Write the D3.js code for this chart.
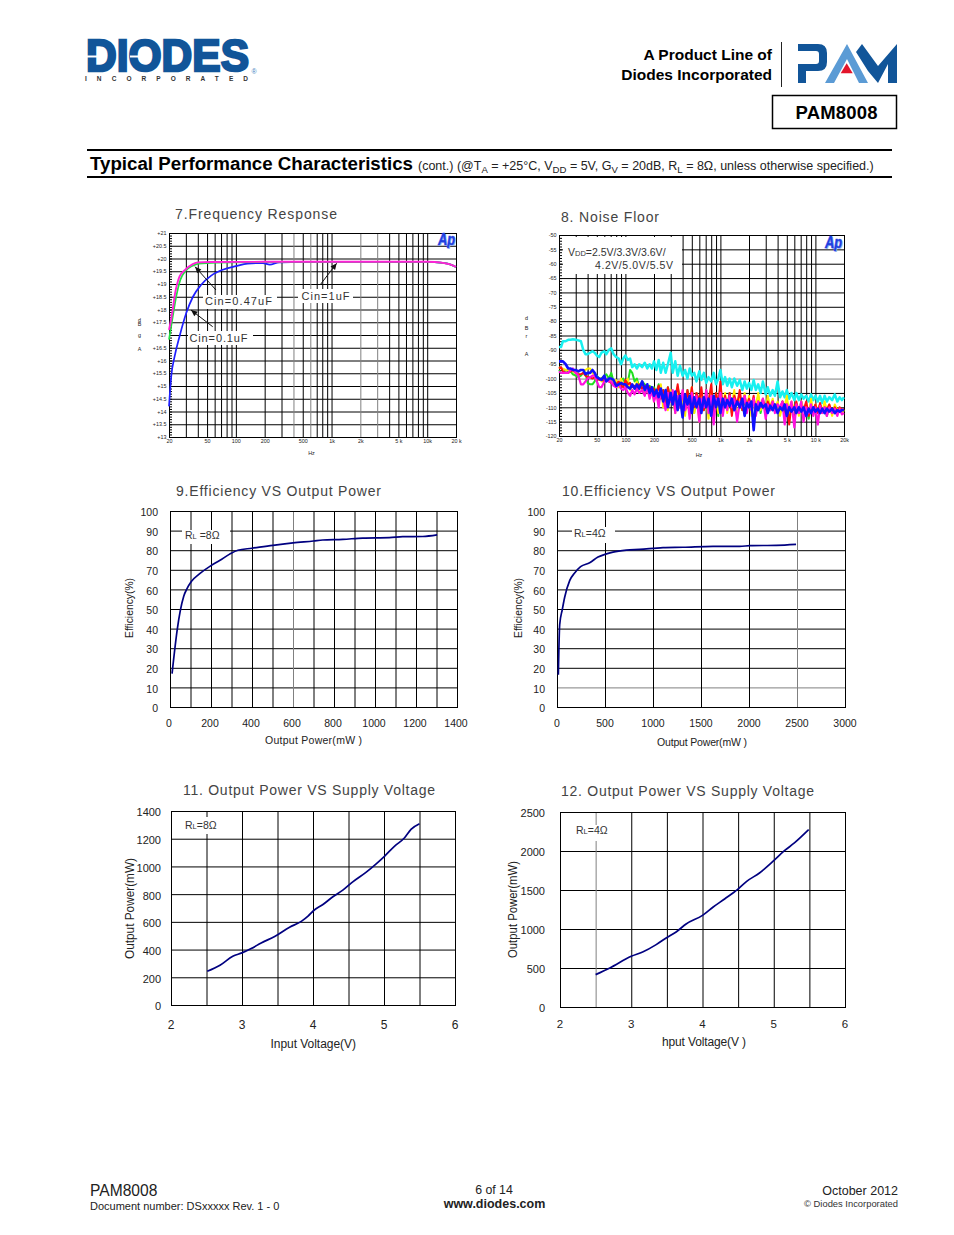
<!DOCTYPE html>
<html><head><meta charset="utf-8">
<script src="https://cdn.jsdelivr.net/npm/d3@7"></script>
<style>
html,body{margin:0;padding:0;background:#fff}
svg{display:block}
text{font-family:"Liberation Sans",Arial,sans-serif}
</style></head><body>
<svg id="page" width="954" height="1235" viewBox="0 0 954 1235"></svg>
<script>
// ---------- chart 7 data
const freqTicks=[20,50,100,200,500,1000,2000,5000,10000,20000];
const freqTickLabels=["20","50","100","200","500","1k","2k","5 k","10k","20 k"];
const freqGrid=[30,40,50,60,70,80,90,100,200,300,500,700,800,900,1000,4000,5000,6000,7000,8000,9000,10000];
const freqGridGrey=[400,600,2000,3000];
const fr7Ticks=[13,13.5,14,14.5,15,15.5,16,16.5,17,17.5,18,18.5,19,19.5,20,20.5,21];
const fr7Labels=["+13","+13.5","+14","+14.5","+15","+15.5","+16","+16.5","+17","+17.5","+18","+18.5","+19","+19.5","+20","+20.5","+21"];
const magentaF=[20,21.6,23.2,25.8,29,35.4,40,53,200,1000,10000,12000,15100,17000,20000];
const magentaV=[17.2,17.86,18.65,19.3,19.53,19.78,19.85,19.86,19.87,19.87,19.87,19.86,19.82,19.78,19.67];
const greenF=[20,21.9,23.8,26.3,29.6,35.4,41,62,200,1000,10000,12000,15100,17000,20000];
const greenV=[16.82,17.73,18.51,19.17,19.5,19.72,19.8,19.84,19.86,19.87,19.87,19.86,19.82,19.78,19.67];
const blueF=[20,21.1,22.9,25.8,30.3,35.6,43.4,55.2,73,100,133,192,226,284,422,1000,10000,12000,15100,17000,20000];
const blueV=[14.2,15.38,16.16,16.95,17.86,18.5,18.97,19.33,19.56,19.7,19.8,19.82,19.76,19.85,19.86,19.87,19.87,19.86,19.82,19.78,19.67];

// ---------- chart 8 data
const nfTicks=[-50,-55,-60,-65,-70,-75,-80,-85,-90,-95,-100,-105,-110,-115,-120];
const nfTickLabels=["20","50","100","200","500","1k","2k","5 k","10 k","20k"];
const nfFreq=[20,21,22,23.5,25,26.5,28,30,32,34,
36,38,40,42.5,45,47.5,50,53,56,60,
63,67,71,75,80,85,90,95,100,106,
112,118,125,132,140,150,160,170,180,190,
200,212,224,236,250,265,280,300,315,335,
355,375,400,425,450,475,500,530,560,600,
630,670,710,750,800,850,900,950,1000,1060,
1120,1180,1250,1320,1400,1500,1600,1700,1800,1900,
2000,2120,2240,2360,2500,2650,2800,3000,3150,3350,
3550,3750,4000,4250,4500,4750,5000,5300,5600,6000,
6300,6700,7100,7500,8000,8500,9000,9500,10000,10600,
11200,11800,12500,13200,14000,15000,16000,17000,18000,19000,
20000];
const nfCyan=[-89,-89,-87,-87,-86.5,-86.5,-86.3,-86.5,-86.7,-87,
-90,-91.5,-91.5,-91,-90.5,-91,-92,-92.5,-91,-90.5,
-91.5,-90,-89.5,-91.5,-92.5,-93,-95,-93,-92,-93.5,
-93,-96,-95,-96.5,-95,-96,-94.5,-96.5,-95,-96.5,
-94,-97,-93.5,-98,-94.5,-98,-95,-91,-98,-94,
-99,-95.5,-99,-97,-100,-96.5,-99,-98,-101,-97.5,
-100.5,-98,-101.5,-99.5,-101,-98,-102,-100,-97,-102,
-99.5,-102.5,-100,-103,-100,-102.5,-100.5,-104,-101,-103.5,
-101.5,-104,-100.5,-104,-102,-105,-101,-105.5,-103,-106,
-104,-106,-101,-106.5,-104.5,-106.5,-104,-107,-105,-107.5,
-105,-107.5,-105.5,-107,-106,-108,-105.5,-107.5,-106,-108,
-106,-108.5,-106,-108,-106.5,-107.5,-105.5,-108,-106.5,-107.5,
-106.5];
const nfGreen=[-97,-98,-98,-97,-97.5,-97.5,-98.5,-99,-99.5,-99,
-98,-98,-101.5,-102,-102,-101,-99,-100,-100,-99,
-98.5,-100,-98,-101,-101,-103,-100.5,-100,-102,-101.5,
-97,-98,-101,-100,-103,-101,-102,-103,-102.5,-104,
-103,-105,-102,-106,-104,-108,-103,-107,-105,-109,
-103,-107,-105,-110,-104,-108,-106,-112,-105,-108,
-106,-111,-104,-109,-106,-110,-105,-113,-106,-108,
-107,-110,-105,-112,-107,-109,-106,-111,-108,-110,
-107,-111,-108,-110,-106,-112,-108,-110,-107,-111,
-108,-110,-109,-112,-108,-111,-110,-113,-109,-111,
-109,-112,-108,-111,-110,-114,-109,-111,-110,-112,
-109,-111,-110,-113,-110,-111,-110,-112,-110.5,-111.5,
-111];
const nfYellow=[-96,-96.5,-96.5,-97,-97,-97,-97.5,-98,-97.5,-97,
-97,-97,-96.5,-96.5,-98,-99,-100,-100,-101,-101,
-100,-101,-100,-102,-100.5,-103,-100,-103,-101,-100,
-104,-102,-103.5,-101,-104,-102,-105,-104,-106,-103,
-108,-104,-109,-102,-110,-105,-111,-104,-107,-112,
-104,-109,-106,-113,-105,-108,-103,-112,-106,-115,
-105,-109,-107,-114,-104,-108,-106,-112,-103,-110,
-105,-112,-106,-109,-104,-114,-107,-110,-105,-111,
-106,-113,-107,-110,-105,-111,-108,-112,-106,-110,
-107,-111,-108,-113,-109,-110,-106,-112,-108,-111,
-109,-113,-108,-111,-109,-112,-107,-112,-109,-111,
-109,-112,-108,-111,-109,-113,-109,-111,-110,-112,
-111];
const nfRed=[-96.5,-96,-97.5,-98,-98,-97.5,-97,-98,-98.5,-98.5,
-98,-99,-99.5,-99.5,-100,-99.5,-100,-100.5,-100,-101,
-100.5,-101,-101.5,-102,-102,-101,-102.5,-103,-100.5,-102,
-101.5,-103,-102.5,-104,-102,-103.5,-102.5,-104,-103,-105,
-103.5,-105,-102.5,-107,-104,-109,-103,-108,-105,-107,
-102,-108,-105,-111,-104,-109,-103,-110,-105,-108,
-103,-111,-106,-108,-102,-112,-105,-109,-101,-111,
-106,-110,-105,-113,-106,-109,-104,-111,-106,-110,
-107,-110,-106,-112,-108,-110,-107,-111,-108,-110,
-108,-111,-109,-110,-108,-113,-109,-116,-109,-111,
-108,-112,-109.5,-111,-108,-113,-110,-111,-109,-112,
-108.5,-112,-110,-111,-109,-112,-110,-111.5,-110,-111,
-110.5];
const nfMagenta=[-97.5,-98,-98,-98,-98,-97,-96.5,-98,-99,-102,
-102,-101,-100,-99.5,-99,-99,-101,-103,-103,-101,
-100.5,-101,-101,-102.5,-103,-102,-103.5,-104,-103,-105,
-106,-104,-105.5,-103.5,-105,-104,-106,-103,-107,-104,
-108,-105,-110,-104,-107,-111,-105,-108,-104,-112,
-106,-110,-104,-111,-107,-114,-105,-109,-106,-115,
-107,-110,-104,-112,-106,-116,-107,-109,-105,-113,
-107,-111,-106,-110,-107,-115,-108,-110,-106,-112,
-108,-111,-107,-113,-108,-110,-107,-114,-109,-111,
-108,-112,-109,-110,-108,-116,-109,-111,-108,-117,
-109,-112,-108,-115,-110,-112,-109,-113,-110,-116,
-109.5,-112,-110,-113,-110,-112,-110.5,-113,-110.5,-112.5,
-112];
const nfBlue=[-94,-94,-94,-95,-96.5,-96.5,-97,-97,-97.5,-97,
-97,-98.5,-98,-98,-97,-98,-99.5,-100,-100.5,-99,
-101,-100,-100,-100.5,-102.5,-102,-101.5,-102,-102,-103,
-103.5,-102,-103.5,-102,-103.5,-101,-104,-102,-105,-103,
-106,-104,-106.5,-103.5,-108,-104,-110,-105,-109,-104.5,
-111,-106,-113.5,-105.5,-109,-106,-112,-106.5,-110,-107,
-112,-106.5,-110,-107,-113,-106,-110,-107,-112,-107,
-110,-107.5,-109.5,-107,-111,-108,-110,-107,-113,-108.5,
-110,-108,-118,-109,-111,-108.5,-110,-109,-112,-109.5,
-111,-109,-112,-110,-111,-109,-113,-110,-111.5,-110,
-112,-110,-111.5,-110,-113,-110.5,-112,-110,-111.5,-110.5,
-112,-110.5,-112,-110.5,-111.5,-110.5,-112,-111,-111.5,-111,
-111];

// ---------- charts 9-12 data
const eff8P=[10,36,50,67,83,104,145,198,242,291,331,400,502,600,700,745,843,940,1070,1135,1233,1303];
const eff8E=[17,40,49,56.5,60.4,64,68,72,74.7,78,80,81,82.5,83.7,84.7,85.2,85.5,86.2,86.4,86.9,87,87.8];
const eff4P=[14,28,55,80,132,184,246,340,427,507,583,722,861,1104,1312,1625,1903,2007,2285,2490];
const eff4E=[16.5,42,49.7,56,64.5,68.4,71.6,73.6,76.5,78,79,80,80.4,81.3,81.5,82,82,82.3,82.5,83];
const pow8V=[2.51,2.69,2.87,3,3.13,3.27,3.46,3.67,3.84,3.93,4.01,4.14,4.28,4.42,4.56,4.75,4.89,5.01,5.15,5.29,5.38,5.5];
const pow8P=[243,287,352,376,407,448,494,561,605,641,682,725,781,829,889,959,1019,1075,1147,1207,1267,1308];
const pow4V=[2.5,2.7,3,3.16,3.35,3.49,3.63,3.77,4,4.15,4.31,4.49,4.62,4.8,5,5.15,5.29,5.49];
const pow4P=[415,500,650,705,800,885,962,1064,1175,1282,1385,1504,1611,1718,1876,2004,2103,2273];
const effTicks=[0,10,20,30,40,50,60,70,80,90,100];
const power1400Ticks=[0,200,400,600,800,1000,1200,1400];
const power1400Grid=[100,200,300,400,500,700,800,900,1000,1100,1200,1300];
const power3000Ticks=[0,500,1000,1500,2000,2500,3000];
const voltTicks=[2,3,4,5,6];
const voltGrid=[2.5,3,3.5,4,4.5,5,5.5];
const p1400Ticks=[0,200,400,600,800,1000,1200,1400];
const p2500Ticks=[0,500,1000,1500,2000,2500];

const svg=d3.select("#page");
function txt(x,y,s,o={}){
  const t=svg.append("text").attr("x",x).attr("y",y).text(s)
    .attr("font-size",o.size||10).attr("fill",o.fill||"#000");
  if(o.bold)t.attr("font-weight","bold");
  if(o.anchor)t.attr("text-anchor",o.anchor);
  if(o.len)t.attr("textLength",o.len).attr("lengthAdjust",o.adjust||"spacing");
  if(o.rotate)t.attr("transform",`rotate(-90 ${x} ${y})`);
  if(o.style)t.attr("font-style",o.style);
  return t;
}
function hGrid(g,y,vals,w,col,wd){
  const a=g.append("g").call(d3.axisLeft(y).tickValues(vals).tickSize(-w).tickFormat(""));
  a.select(".domain").remove();
  a.selectAll("line").attr("stroke",col).attr("stroke-width",wd||1);
}
function vGrid(g,x,vals,h,col,wd){
  const a=g.append("g").attr("transform",`translate(0,${h})`)
    .call(d3.axisBottom(x).tickValues(vals).tickSize(-h).tickFormat(""));
  a.select(".domain").remove();
  a.selectAll("line").attr("stroke",col).attr("stroke-width",wd||1);
}
function labelsLeft(g,y,vals,fmt,size,pad,col,dy){
  const a=g.append("g").call(d3.axisLeft(y).tickValues(vals).tickSize(0).tickPadding(pad).tickFormat(fmt));
  a.select(".domain").remove();
  a.selectAll("text").attr("font-size",size).attr("fill",col||"#222").attr("font-family",null).attr("dy",dy||"0.32em");
}
function labelsBottom(g,x,vals,fmt,h,size,pad,col,dx){
  const a=g.append("g").attr("transform",`translate(0,${h})`)
    .call(d3.axisBottom(x).tickValues(vals).tickSize(0).tickPadding(pad).tickFormat(fmt));
  a.select(".domain").remove();
  a.selectAll("text").attr("font-size",size).attr("fill",col||"#222").attr("font-family",null).attr("dx",dx||0);
}
function frame(g,w,h,wd){
  g.append("rect").attr("width",w).attr("height",h).attr("fill","none").attr("stroke","#000").attr("stroke-width",wd||1).attr("x",0.5).attr("y",0.5);
}
function whiteBox(x,y,w,h){svg.append("rect").attr("x",x).attr("y",y).attr("width",w).attr("height",h).attr("fill","#fff");}
function curve(g,x,y,xs,ys,color,wd,shape){
  g.append("path").attr("fill","none").attr("stroke",color).attr("stroke-width",wd)
   .attr("stroke-linejoin","round")
   .attr("d",d3.line().x((d,i)=>x(xs[i])).y(d=>y(d)).curve(shape||d3.curveLinear)(ys));
}
function apLogo(x,y){
  txt(x+1,y+1,"Ap",{size:16,bold:true,style:"italic",fill:"#9db8f5",len:17,adjust:"spacingAndGlyphs"});
  txt(x,y,"Ap",{size:16,bold:true,style:"italic",fill:"#1f3fe0",len:17,adjust:"spacingAndGlyphs"}).attr("stroke","#1f3fe0").attr("stroke-width",0.5);
}
function arrow(x1,y1,x2,y2){
  svg.append("line").attr("x1",x1).attr("y1",y1).attr("x2",x2).attr("y2",y2).attr("stroke","#111").attr("stroke-width",1);
  const a=Math.atan2(y2-y1,x2-x1),l=7,s=0.42;
  svg.append("path").attr("fill","#111").attr("d",
    `M${x2},${y2}L${x2-l*Math.cos(a-s)},${y2-l*Math.sin(a-s)}L${x2-l*Math.cos(a+s)},${y2-l*Math.sin(a+s)}Z`);
}

// ---------- page header
function header(){
  const blue="#115599";
  txt(86,71,"DIODES",{size:44,bold:true,fill:blue,len:163,adjust:"spacingAndGlyphs"}).attr("stroke",blue).attr("stroke-width",2.4);
  svg.append("rect").attr("x",85).attr("y",55.5).attr("width",19).attr("height",2).attr("fill","#fff");
  svg.append("path").attr("fill","#fff").attr("d","M130,55.5H139V52L145,56.5L139,61V57.5H130Z");
  txt(251.5,74,"®",{size:7,fill:"#3f7fc0"});
  txt(85,81,"INCORPORATED",{size:6.5,bold:true,fill:"#333",len:163});
  txt(772,60,"A Product Line of",{size:15.5,bold:true,anchor:"end"});
  txt(772,80,"Diodes Incorporated",{size:15.5,bold:true,anchor:"end"});
  svg.append("line").attr("x1",781.5).attr("x2",781.5).attr("y1",42).attr("y2",87).attr("stroke","#222").attr("stroke-width",1);
  // PAM mark
  svg.append("path").attr("fill",blue).attr("d","M798,44H818Q827,44 827,53V62Q827,71 818,71H806V83H798V64H816Q819,64 819,61V54Q819,51 816,51H798Z");
  svg.append("path").attr("fill","#5b9bd5").attr("d","M825,83L847,44L868,83H859L847,59L834,83Z");
  svg.append("path").attr("fill","#e3152b").attr("d","M846.7,63.3L852.7,73.3H840.7Z");
  svg.append("path").attr("fill",blue).attr("d","M862,44L878,66L897,44V83H888V64L878,83L868,71L856,52Z");
  svg.append("rect").attr("x",772.5).attr("y",95.5).attr("width",124).attr("height",33).attr("fill","none").attr("stroke","#000").attr("stroke-width",1.5);
  txt(836.5,119,"PAM8008",{size:18.5,bold:true,anchor:"middle",len:82});
  [150,177].forEach(y=>svg.append("line").attr("x1",87).attr("x2",892).attr("y1",y).attr("y2",y).attr("stroke","#000").attr("stroke-width",2));
  txt(90,170,"Typical Performance Characteristics",{size:18.3,bold:true,len:323,adjust:"spacingAndGlyphs"});
  const h=svg.append("text").attr("x",418).attr("y",170).attr("font-size",12.5).attr("fill","#222");
  const parts=[["(cont.) (@T",0],["A",1],[" = +25°C, V",0],["DD",1],[" = 5V, G",0],["V",1],[" = 20dB, R",0],["L",1],[" = 8Ω, unless otherwise specified.)",0]];
  let sub=0;
  parts.forEach(([s,k])=>{
    const dy=k?3:(sub?-3:0);
    h.append("tspan").attr("dy",dy).attr("font-size",k?9.6:12.5).text(s);
    sub=k;
  });
}

// ---------- chart 7
function chart7(){
  const L=169,T=233,W=287,H=204;
  const x=d3.scaleLog().domain([20,20000]).range([0,W]);
  const y=d3.scaleLinear().domain([13,21]).range([H,0]);
  const g=svg.append("g").attr("transform",`translate(${L},${T})`);
  hGrid(g,y,fr7Ticks,W,"#000");
  vGrid(g,x,freqGridGrey,H,"#808080");
  vGrid(g,x,freqGrid,H,"#000");
  const minor=d3.range(130,211).map(d=>d/10);
  const m=g.append("g").call(d3.axisRight(y).tickValues(minor).tickSize(3).tickFormat(""));
  m.select(".domain").remove(); m.selectAll("line").attr("stroke","#000");
  frame(g,W,H);
  labelsLeft(g,y,fr7Ticks,(d,i)=>fr7Labels[i],5.4,2.5,"#222");
  labelsBottom(g,x,freqTicks,(d,i)=>freqTickLabels[i],H,5.4,2.5,"#222");
  txt(311.5,454.5,"Hz",{size:5.4,anchor:"middle",fill:"#222"});
  [["d",322],["B",326],["g",337],["A",351]].forEach(([s,yy])=>txt(139.5,yy,s,{size:5.4,anchor:"middle",fill:"#222"}));
  whiteBox(203,295,74,14); whiteBox(188,331,65,14); whiteBox(298,289,55,14);
  curve(g,x,y,blueF,blueV,"#1f1fff",1.7,d3.curveMonotoneX);
  curve(g,x,y,greenF,greenV,"#22e040",1.7,d3.curveMonotoneX);
  curve(g,x,y,magentaF,magentaV,"#ff22d8",1.9,d3.curveMonotoneX);
  arrow(216,290,195,266.7); arrow(212.7,326.7,191,310); arrow(320,285,336.7,263.3);
  txt(205,305,"Cin=0.47uF",{size:11,fill:"#333",len:67});
  txt(189.5,341.5,"Cin=0.1uF",{size:11,fill:"#333",len:58});
  txt(301.5,299.5,"Cin=1uF",{size:11,fill:"#333",len:48});
  apLogo(438,245);
  txt(175,219,"7.Frequency Response",{size:14,fill:"#444",len:162});
}

// ---------- chart 8
function chart8(){
  const L=559,T=235,W=285,H=201;
  const x=d3.scaleLog().domain([20,20000]).range([0,W]);
  const y=d3.scaleLinear().domain([-120,-50]).range([H,0]);
  const g=svg.append("g").attr("transform",`translate(${L},${T})`);
  hGrid(g,y,nfTicks.filter(d=>d!==-95&&d!==-100),W,"#000");
  hGrid(g,y,[-95,-100],W,"#808080");
  vGrid(g,x,freqGrid.concat(freqGridGrey),H,"#000");
  const minor=d3.range(-120,-49);
  const m=g.append("g").call(d3.axisRight(y).tickValues(minor).tickSize(3).tickFormat(""));
  m.select(".domain").remove(); m.selectAll("line").attr("stroke","#000");
  whiteBox(563,237,119,37);
  frame(g,W,H);
  labelsLeft(g,y,nfTicks,d=>String(d),5.4,2.5,"#222");
  labelsBottom(g,x,freqTicks,(d,i)=>nfTickLabels[i],H,5.4,2.5,"#222");
  txt(699,457,"Hz",{size:5.4,anchor:"middle",fill:"#222"});
  [["d",320],["B",330],["r",338],["A",356]].forEach(([s,yy])=>txt(526.5,yy,s,{size:5.4,anchor:"middle",fill:"#222"}));
  curve(g,x,y,nfFreq,nfCyan,"#18f0f0",2.5);
  curve(g,x,y,nfFreq,nfGreen,"#20e020",2);
  curve(g,x,y,nfFreq,nfYellow,"#ffee00",2);
  curve(g,x,y,nfFreq,nfRed,"#ff1010",2);
  curve(g,x,y,nfFreq,nfMagenta,"#ff10e0",2.2);
  curve(g,x,y,nfFreq,nfBlue,"#1010ff",2.6);
  const v=svg.append("text").attr("x",568).attr("y",256).attr("font-size",10.5).attr("fill","#333");
  v.append("tspan").text("V"); v.append("tspan").attr("font-size",7.5).text("DD"); v.append("tspan").text("=2.5V/3.3V/3.6V/");
  txt(595,269,"4.2V/5.0V/5.5V",{size:10.5,fill:"#333",len:78});
  apLogo(825,248);
  txt(561,222,"8. Noise Floor",{size:14,fill:"#444",len:98});
}

// ---------- generic line chart
function lineChart(c){
  const g=svg.append("g").attr("transform",`translate(${c.L},${c.T})`);
  const x=d3.scaleLinear().domain(c.xDom).range([0,c.W]);
  const y=d3.scaleLinear().domain(c.yDom).range([c.H,0]);
  hGrid(g,y,c.yGrid.filter(d=>!(c.yGrey||[]).includes(d)),c.W,"#000");
  if(c.yGrey)hGrid(g,y,c.yGrey,c.W,"#808080");
  vGrid(g,x,c.xGrid.filter(d=>!(c.xGrey||[]).includes(d)),c.H,"#000");
  if(c.xGrey)vGrid(g,x,c.xGrey,c.H,"#808080");
  frame(g,c.W,c.H);
  labelsLeft(g,y,c.yTicks,d=>String(d),c.yTickSize,c.padY,"#222","0.45em");
  labelsBottom(g,x,c.xTicks,d=>String(d),c.H,c.xTickSize,c.padX,"#222",c.dx);
  whiteBox(...c.box);
  curve(g,x,y,c.xs,c.ys,"#000080",1.7,d3.curveMonotoneX);
  const r=svg.append("text").attr("x",c.rl[0]).attr("y",c.rl[1]).attr("font-size",10.5).attr("fill","#333");
  r.append("tspan").text("R"); r.append("tspan").attr("font-size",7.5).text("L"); r.append("tspan").text(c.rl[2]);
  txt(c.title[0],c.title[1],c.title[2],{size:14,fill:"#444",len:c.title[3]});
  txt(c.xTitle[0],c.xTitle[1],c.xTitle[2],{size:c.titleSize,fill:"#222",len:c.xTitle[3]});
  txt(c.yTitle[0],c.yTitle[1],c.yTitle[2],{size:c.titleSize,fill:"#222",len:c.yTitle[3],rotate:true,adjust:"spacingAndGlyphs"});
}

header(); chart7(); chart8();
lineChart({L:170,T:511,W:287,H:196,xDom:[0,1400],yDom:[0,100],
  yGrid:effTicks,xGrid:power1400Grid.concat([600]),xGrey:[600],yTicks:effTicks,xTicks:power1400Ticks,
  yTickSize:10.5,xTickSize:10.5,padY:12,padX:13,dx:-1.5,xs:eff8P,ys:eff8E,box:[182,530,48,14],rl:[185,539," =8Ω"],
  title:[176,496,"9.Efficiency VS Output Power",205],titleSize:10.5,
  xTitle:[265,744,"Output Power(mW )",97],yTitle:[133,638,"Efficiency(%)",60]});
lineChart({L:557,T:511,W:288,H:196,xDom:[0,3000],yDom:[0,100],
  yGrid:effTicks,yGrey:[10],xGrid:power3000Ticks,xGrey:[2500],yTicks:effTicks,xTicks:power3000Ticks,
  yTickSize:10.5,xTickSize:10.5,padY:12,padX:13,dx:-0.5,xs:eff4P,ys:eff4E,box:[572,527,43,16],rl:[574,537,"=4Ω"],
  title:[562,496,"10.Efficiency VS Output Power",213],titleSize:10.5,
  xTitle:[657,746,"Output Power(mW )",90],yTitle:[522,638,"Efficiency(%)",60]});
lineChart({L:171,T:811,W:284,H:194,xDom:[2,6],yDom:[0,1400],
  yGrid:p1400Ticks,xGrid:voltGrid,yTicks:p1400Ticks,xTicks:voltTicks,
  yTickSize:11,xTickSize:12,padY:10,padX:15,dx:-0.5,xs:pow8V,ys:pow8P,box:[183,817,42,17],rl:[185,829,"=8Ω"],
  title:[183,795,"11. Output Power VS Supply Voltage",252],titleSize:12,
  xTitle:[270.5,1048,"Input Voltage(V)",85.5],yTitle:[134,959,"Output Power(mW)",101]});
lineChart({L:560,T:812,W:285,H:195,xDom:[2,6],yDom:[0,2500],
  yGrid:p2500Ticks,xGrid:voltGrid,xGrey:[2.5],yTicks:p2500Ticks,xTicks:voltTicks,
  yTickSize:11,xTickSize:11.5,padY:15,padX:13,dx:-0.5,xs:pow4V,ys:pow4P,box:[573,825,39,16],rl:[576,834,"=4Ω"],
  title:[561,796,"12. Output Power VS Supply Voltage",253],titleSize:12,
  xTitle:[662,1046,"hput Voltage(V )",84],yTitle:[517,958,"Output Power(mW)",97]});

// ---------- footer
txt(90,1196,"PAM8008",{size:15.6,fill:"#222"});
txt(90,1210,"Document number: DSxxxxx Rev. 1 - 0",{size:11,fill:"#222"});
txt(494,1194,"6 of 14",{size:12.3,anchor:"middle",fill:"#222"});
txt(494.5,1208,"www.diodes.com",{size:12.5,bold:true,anchor:"middle",fill:"#222"});
txt(898,1195,"October 2012",{size:12.5,anchor:"end",fill:"#222"});
txt(898,1207,"© Diodes Incorporated",{size:9.4,anchor:"end",fill:"#333"});
</script>
</body></html>
